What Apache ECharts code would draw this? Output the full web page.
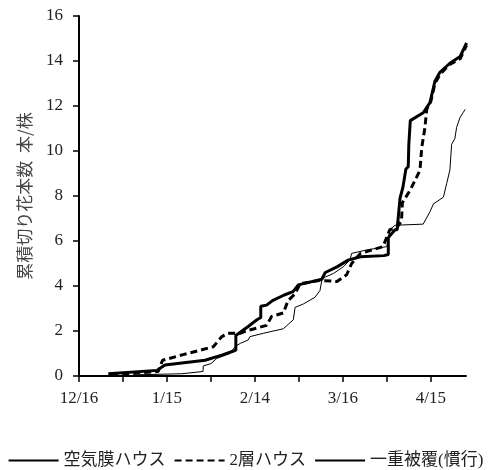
<!DOCTYPE html>
<html lang="ja">
<head>
	<meta charset="UTF-8">
	<title>累積切り花本数</title>
	<script src="https://cdn.jsdelivr.net/npm/echarts@6/dist/echarts.min.js"></script>
	<style>
		html, body { margin: 0; padding: 0; background: #fff; }
	</style>
</head>
<body>
	<div id="main" style="width:491px; height:470px"></div>
	<script>
		// x = days after 12/16, y = cumulative cut flowers per plant
		var tickDays = [0, 15, 30, 45, 60, 75, 90, 105, 120];
		var labelDays = [0, 30, 60, 90, 120];
		var labelTexts = ["12/16", "1/15", "2/14", "3/16", "4/15"];

		var airHouse = [
			[10, 0.1], [26.6, 0.25], [29.3, 0.49], [43, 0.7], [48.7, 0.93], [52.5, 1.1], [53.5, 1.15],
			[53.5, 1.8], [57.7, 2.2], [60.7, 2.5], [62, 2.6], [62, 3.1], [64, 3.15], [66, 3.35],
			[70, 3.6], [73, 3.75], [74.8, 4.05], [82.8, 4.3], [84, 4.6], [88, 4.85], [91.8, 5.15],
			[96, 5.3], [104, 5.35], [105.5, 5.4], [105.5, 6.15], [107.8, 6.5], [108.5, 6.5],
			[109.5, 7.9], [110.5, 8.4], [111.5, 9.2], [112.3, 9.3], [112.5, 10.3], [113, 11.35],
			[117.4, 11.7], [119.7, 12.15], [121.4, 13.1], [123.1, 13.5], [126.5, 13.9],
			[130, 14.2], [132.2, 14.8]
		];
		var doubleHouse = [
			[11, 0.05], [27, 0.2], [28.5, 0.7], [35.5, 0.95], [45.8, 1.3], [48.7, 1.75], [50.8, 1.9],
			[55, 1.9], [57, 2.0], [64, 2.25], [65.7, 2.65], [69.7, 2.8], [71.3, 3.35], [73.7, 3.65],
			[75.4, 4.1], [82.2, 4.25], [88, 4.2], [91.3, 4.5], [93, 5.0], [96, 5.45], [103.7, 5.75],
			[106, 6.5], [108.5, 6.6], [110, 6.9], [110.3, 7.7], [112.9, 8.25], [115.2, 8.85],
			[116.3, 9.15], [116.9, 10.15], [118, 11.05], [118.6, 11.85], [120, 12.2], [121.4, 13.0],
			[123.1, 13.4], [126.5, 13.85], [130, 14.1], [132.2, 14.7]
		];
		var singleCover = [
			[18.5, 0.05], [35, 0.1], [42.3, 0.2], [42.4, 0.45], [45, 0.55], [47, 0.78], [51.5, 1.0],
			[53.2, 1.3], [55, 1.45], [57.7, 1.6], [58.3, 1.75], [62.9, 1.9], [69.7, 2.1], [73.1, 2.5],
			[73.7, 3.05], [76.5, 3.2], [80.5, 3.5], [82.2, 3.8], [82.8, 4.25], [84, 4.4], [86.7, 4.55],
			[90.1, 4.85], [92.4, 5.15], [93, 5.45], [98, 5.6], [105, 5.75], [106, 6.5], [107.8, 6.7],
			[117.4, 6.75], [119.7, 7.3], [120.9, 7.65], [124.3, 7.95], [125.4, 8.55], [126.5, 9.15],
			[127.1, 10.3], [128.2, 10.55], [128.8, 11.05], [130, 11.5], [131, 11.7], [131.7, 11.85]
		];

		var font = '"Liberation Serif", "Noto Sans CJK JP", serif';
		var myChart = echarts.init(document.getElementById("main"));
		myChart.setOption({
			animation: false,
			textStyle: { fontFamily: font, color: "#222" },
			grid: { left: 79, right: 25, top: 16, bottom: 94, containLabel: false },
			legend: {
				top: 452,
				left: "center",
				padding: 0,
				itemWidth: 50,
				itemHeight: 10,
				itemGap: 8,
				itemStyle: { opacity: 0 },
				textStyle: { fontSize: 17, color: "#222", fontFamily: font },
				data: ["空気膜ハウス", "2層ハウス", "一重被覆(慣行)"]
			},
			xAxis: {
				type: "value",
				min: 0,
				max: 132,
				interval: 15,
				splitLine: { show: false },
				axisLine: { lineStyle: { color: "#000", width: 2 } },
				axisTick: { inside: false, length: 6, lineStyle: { color: "#000", width: 1.5 }, customValues: tickDays },
				axisLabel: {
					fontSize: 17, color: "#222", margin: 14,
					customValues: labelDays,
					formatter: function (v) {
						var i = labelDays.indexOf(v);
						return i >= 0 ? labelTexts[i] : "";
					}
				}
			},
			yAxis: {
				type: "value",
				min: 0,
				max: 16,
				interval: 2,
				name: "累積切り花本数  本/株",
				nameLocation: "middle",
				nameGap: 46,
				nameTextStyle: { fontSize: 17, color: "#444", fontFamily: '"Noto Sans CJK JP", sans-serif' },
				splitLine: { show: false },
				axisLine: { show: true, lineStyle: { color: "#000", width: 2 } },
				axisTick: { show: true, length: 6, lineStyle: { color: "#000", width: 1.5 } },
				axisLabel: { fontSize: 17, color: "#222", margin: 16 }
			},
			series: [
				{
					name: "空気膜ハウス", type: "line", symbol: "none",
					lineStyle: { color: "#000", width: 3 },
					itemStyle: { color: "#000" },
					data: airHouse
				},
				{
					name: "2層ハウス", type: "line", symbol: "none",
					lineStyle: { color: "#000", width: 3, type: [7, 4] },
					itemStyle: { color: "#000" },
					data: doubleHouse
				},
				{
					name: "一重被覆(慣行)", type: "line", symbol: "none",
					lineStyle: { color: "#000", width: 1 },
					itemStyle: { color: "#000" },
					data: singleCover
				}
			]
		});
	</script>
</body>
</html>
